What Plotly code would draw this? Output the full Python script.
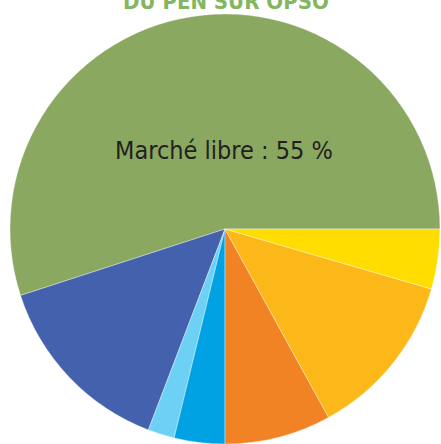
import plotly.graph_objects as go

segments = ["Marché libre", "Segment bleu", "Segment bleu clair", "Segment azur",
            "Segment orange", "Segment orange clair", "Segment jaune"]
shares = [55.0, 14.2, 2.0, 3.8, 8.0, 12.5, 4.5]
colors = ["#8AA860", "#4361AC", "#6DD0F5", "#00A2E3", "#F28324", "#FBB818", "#FFDD00"]

title_text = "DU PEN SUR OPSO"
label_text = "Marché libre : 55 %"

W, H = 441, 444
# counterclockwise: plotly puts the boundary between slice 1 and slice 2 at `rotation`
first_frac = shares[0] / sum(shares)
rot = (90 - 360 * first_frac) % 360

fig = go.Figure(go.Pie(
    labels=segments,
    values=shares,
    sort=False,
    direction="counterclockwise",
    rotation=rot,
    marker=dict(colors=colors, line=dict(color="rgba(255,255,255,0.6)", width=0.6)),
    textinfo="none",
    hoverinfo="label+percent",
    showlegend=False,
    domain=dict(x=[10 / W, 440 / W], y=[0, 1 - 14 / H]),
))

fig.add_annotation(
    text=label_text, x=224 / W, y=1 - 150 / H, xref="paper", yref="paper",
    showarrow=False, xanchor="center", yanchor="middle",
    font=dict(family="DejaVu Sans Condensed, sans-serif", size=25, color="#231F20"),
)
fig.add_annotation(
    text="<b>" + title_text + "</b>", x=226 / W, y=1 - 2 / H, xref="paper", yref="paper",
    showarrow=False, xanchor="center", yanchor="middle",
    font=dict(family="DejaVu Sans Condensed, sans-serif", size=22, color="#82B660"),
)

fig.update_layout(
    width=W, height=H, autosize=False,
    margin=dict(l=0, r=0, t=0, b=0),
    paper_bgcolor="white", plot_bgcolor="white",
)
fig.write_html("out.html", config={"displayModeBar": False},
               post_script="document.body.style.margin='0';document.body.style.overflow='hidden';")
